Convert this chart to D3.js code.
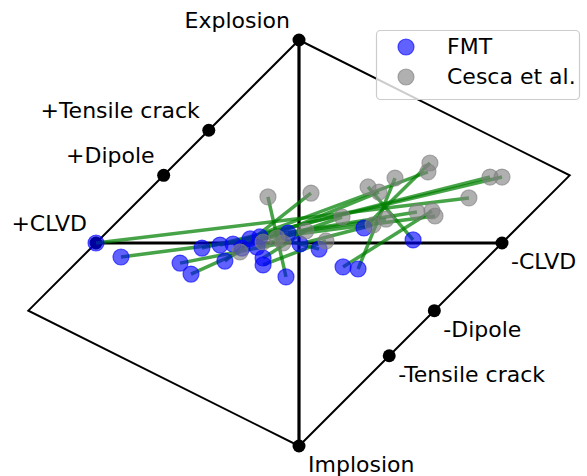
<!DOCTYPE html>
<html>
<head>
<meta charset="utf-8">
<script src="https://cdn.jsdelivr.net/npm/d3@7"></script>
<style>
  html, body { margin: 0; padding: 0; background: #fff; }
  svg { display: block; }
  text { font-family: "DejaVu Sans", sans-serif; }
</style>
</head>
<body>
<svg id="chart" width="587" height="476"></svg>
<script>
// Hudson source-type plot (u, v coordinates)
const refNames = ["Explosion", "Implosion", "+CLVD", "-CLVD", "+Dipole", "-Dipole", "+Tensile crack", "-Tensile crack"];
const refU = [0, 0, -1, 1, -2/3, 2/3, -4/9, 4/9];
const refV = [1, -1, 0, 0, 1/3, -1/3, 5/9, -5/9];
const refSide = ["pos", "neg", "pos", "neg", "pos", "neg", "pos", "neg"];

// Outline: Explosion -> right corner -> Implosion -> left corner -> Explosion
const outlineU = [0, 4/3, 0, -4/3, 0];
const outlineV = [1, 1/3, -1, -1/3, 1];

// FMT solutions (u, v)
const fmtU = [-1.00, -0.877, -0.586, -0.532, -0.365, -0.064, -0.478, -0.389, -0.325, -0.281, -0.207,
              -0.192, -0.177, -0.177, -0.054, 0.005, 0.099, 0.320, 0.217, 0.291, 0.562, -0.241];
const fmtV = [0.000, -0.069, -0.099, -0.153, -0.089, -0.167, -0.025, -0.010, -0.005, -0.025, -0.020,
              0.030, -0.074, -0.108, 0.049, -0.005, -0.030, 0.074, -0.118, -0.128, 0.015, 0.020];
// Cesca et al. solutions (u, v), same events
const cescaU = [0.837, 0.670, -0.079, -0.291, 0.059, -0.153, 1.000, 0.941, 0.635, 0.394, 0.212,
                0.581, 0.034, 0.133, 0.429, 0.365, -0.108, 0.645, 0.655, 0.473, 0.340, -0.177];
const cescaV = [0.222, 0.133, 0.000, -0.044, 0.246, 0.227, 0.325, 0.325, 0.350, 0.251, 0.128,
                0.153, 0.059, 0.010, 0.118, 0.089, 0.025, 0.394, 0.158, 0.320, 0.276, 0.005];

const legendLabels = ["FMT", "Cesca et al."];
const legendColors = ["#0000ff", "#808080"];

const svg = d3.select("#chart");
const x = d3.scaleLinear().domain([-1, 1]).range([96, 502]);
const y = d3.scaleLinear().domain([-1, 1]).range([446, 40]);
const fs = 22;

// outline
const line = d3.line().x(d => x(d[0])).y(d => y(d[1]));
svg.append("path")
  .attr("d", line(outlineU.map((u, i) => [u, outlineV[i]])))
  .attr("fill", "none").attr("stroke", "#000").attr("stroke-width", 2)
  .attr("stroke-linejoin", "miter");

// axes (CLVD line and vertical isotropic line)
svg.append("line").attr("x1", x(-1)).attr("y1", y(0)).attr("x2", x(1)).attr("y2", y(0))
  .attr("stroke", "#000").attr("stroke-width", 3.2);
svg.append("line").attr("x1", x(0)).attr("y1", y(1)).attr("x2", x(0)).attr("y2", y(-1))
  .attr("stroke", "#000").attr("stroke-width", 3.2);

// reference markers
svg.selectAll("circle.ref").data(refNames).enter().append("circle")
  .attr("class", "ref")
  .attr("cx", (d, i) => x(refU[i])).attr("cy", (d, i) => y(refV[i]))
  .attr("r", 6.5).attr("fill", "#000");

// reference labels
svg.selectAll("text.ref").data(refNames).enter().append("text")
  .attr("class", "ref")
  .attr("x", (d, i) => x(refU[i]) + (refSide[i] === "pos" ? -9 : 9))
  .attr("y", (d, i) => y(refV[i]) + (refSide[i] === "pos" ? -12 : 26))
  .attr("text-anchor", (d, i) => refSide[i] === "pos" ? "end" : "start")
  .attr("font-size", fs)
  .attr("fill", "#000")
  .text(d => d);

// connecting lines
svg.selectAll("line.pair").data(fmtU).enter().append("line")
  .attr("class", "pair")
  .attr("x1", (d, i) => x(fmtU[i])).attr("y1", (d, i) => y(fmtV[i]))
  .attr("x2", (d, i) => x(cescaU[i])).attr("y2", (d, i) => y(cescaV[i]))
  .attr("stroke", "#008000").attr("stroke-opacity", 0.72).attr("stroke-width", 3.5);

function dots(us, vs, color) {
  svg.append("g").selectAll("circle").data(us).enter().append("circle")
    .attr("cx", (d, i) => x(us[i])).attr("cy", (d, i) => y(vs[i]))
    .attr("r", 8)
    .attr("fill", color).attr("fill-opacity", 0.62)
    .attr("stroke", color).attr("stroke-opacity", 0.62).attr("stroke-width", 1.2);
}
dots(fmtU, fmtV, legendColors[0]);
dots(cescaU, cescaV, legendColors[1]);

// legend
const lg = svg.append("g");
lg.append("rect").attr("x", 376.5).attr("y", 30.5).attr("width", 203).attr("height", 69)
  .attr("rx", 4).attr("fill", "#fff").attr("fill-opacity", 0.8)
  .attr("stroke", "#cccccc").attr("stroke-width", 1.2);
legendLabels.forEach((lab, i) => {
  lg.append("circle").attr("cx", 406).attr("cy", 47 + i * 30).attr("r", 8)
    .attr("fill", legendColors[i]).attr("fill-opacity", 0.62)
    .attr("stroke", legendColors[i]).attr("stroke-opacity", 0.62).attr("stroke-width", 1.2);
  lg.append("text").attr("x", 447).attr("y", 54 + i * 30)
    .attr("font-size", fs).attr("fill", "#000").text(lab);
});
</script>
</body>
</html>
